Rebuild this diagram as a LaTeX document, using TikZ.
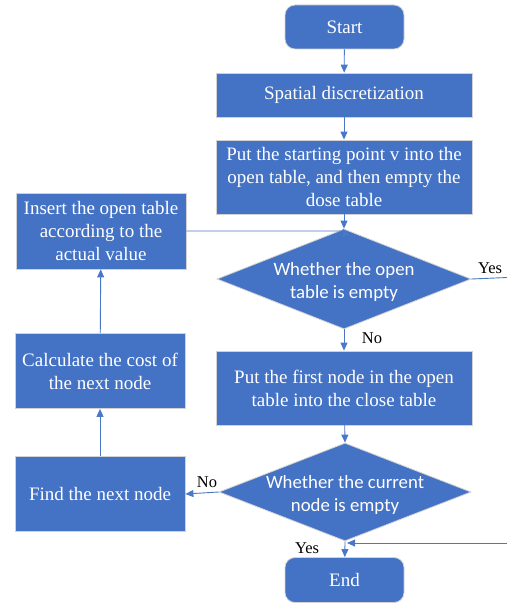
\documentclass[tikz,border=0pt]{standalone}
\usepackage{fontspec}
\setmainfont{Liberation Serif}
\newfontfamily\calib{Carlito}
\usetikzlibrary{arrows.meta,shapes.geometric}
\definecolor{fblue}{HTML}{4472C4}
\definecolor{lblue}{HTML}{4A78C8}
\begin{document}
\begin{tikzpicture}[x=1pt,y=-1pt,
  box/.style={rectangle,fill=fblue,draw=gray!35,line width=0.8pt,text=white,align=center,
    inner sep=0pt,font=\fontsize{19}{23}\selectfont},
  term/.style={box,rounded corners=10pt},
  dec/.style={diamond,fill=fblue,draw=gray!35,line width=0.8pt,inner sep=0pt},
  dectext/.style={text=white,align=center,font=\calib\fontsize{18.8}{23}\selectfont},
  conn/.style={draw=lblue,line width=0.9pt,-{Triangle[length=8pt,width=7pt]}},
  plain/.style={draw=lblue,line width=0.9pt},
  lab/.style={font=\fontsize{16.5}{18}\selectfont,text=black}]
\useasboundingbox (0,0) rectangle (507,604);
\node[term,minimum width=119pt,minimum height=44pt] (start) at (344.5,27) {Start};
\node[box,minimum width=256pt,minimum height=44pt] (spat) at (344,95) {Spatial discretization};
\node[box,minimum width=256pt,minimum height=74pt] (put) at (344,177)
  {Put the starting point v into the\\open table, and then empty the\\dose table};
\node[dec,minimum width=254pt,minimum height=100pt] (d1) at (344,279) {};
\node[dectext] (d1t) at (344,282) {Whether the open\\table is empty};
\node[box,minimum width=256pt,minimum height=74pt] (first) at (344,388)
  {Put the first node in the open\\table into the close table};
\node[dec,minimum width=252pt,minimum height=98pt] (d2) at (345,492) {};
\node[dectext] (d2t) at (345,495) {Whether the current\\node is empty};
\node[term,minimum width=119pt,minimum height=45pt] (end) at (344.5,580) {End};
\node[box,minimum width=170pt,minimum height=76pt] (ins) at (101,231)
  {Insert the open table\\according to the\\actual value};
\node[box,minimum width=170pt,minimum height=75pt] (calc) at (100,371)
  {Calculate the cost of\\the next node};
\node[box,minimum width=170pt,minimum height=75pt] (find) at (100,494) {Find the next node};
\coordinate (yesout) at (507,277.5);
\coordinate (yesin) at (507,543);
\coordinate (join) at (345,543);
\draw[conn] (start) -- (spat);
\draw[conn] (spat) -- (put);
\draw[conn] (put) -- (d1.north);
\draw[conn] (ins.east) -- (ins.east -| d1.north) -- ([xshift=-1pt]d1.north);
\draw[plain] (d1.east) -- (yesout);
\node[lab] (yes1) at (490,268) {Yes};
\draw[conn] (d1.south) -- (first);
\node[lab] (no1) at (372,338) {No};
\draw[conn] (first) -- (d2.north);
\draw[conn] (d2.west) -- (find.east);
\node[lab] (no2) at (207,482) {No};
\draw[conn] (d2.south) -- (end);
\node[lab] (yes2) at (307,548) {Yes};
\draw[conn] (yesin) -- ([xshift=2pt]join);
\draw[conn] (find) -- (calc);
\draw[conn] (calc) -- (ins);
\end{tikzpicture}
\end{document}
